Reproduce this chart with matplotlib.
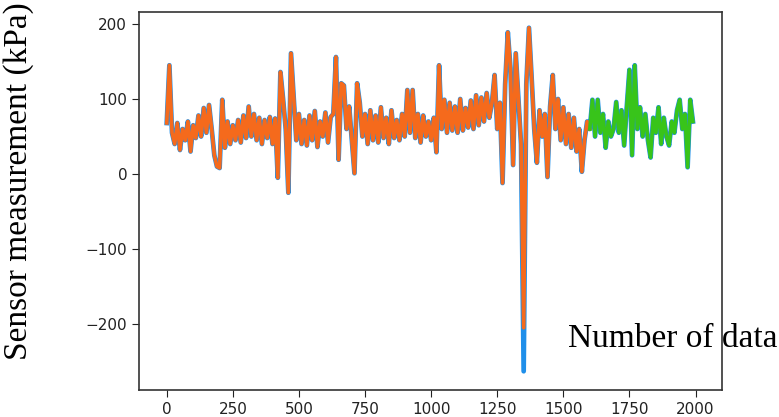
import matplotlib
matplotlib.use("Agg")
import matplotlib.pyplot as plt
import numpy as np

# sensor readings, one value read every 10 samples (index 0..1990)
step = 10
measured = [
    68, 145, 55, 40, 68, 32, 60, 45, 70, 30,
    65, 48, 78, 50, 88, 55, 92, 60, 25, 10,
    8, 99, 35, 70, 40, 65, 45, 72, 42, 78,
    48, 90, 50, 80, 45, 75, 40, 72, 48, 76,
    40, 74, -5, 136, 100, 60, -25, 161, 103, 45,
    80, 40, 72, 38, 78, 45, 84, 36, 70, 50,
    82, 42, 76, 80, 156, 19, 121, 118, 60, 90,
    45, 1, 121, 95, 50, 80, 40, 85, 45, 78,
    42, 89, 48, 75, 40, 85, 48, 72, 45, 80,
    50, 112, 55, 112, 48, 80, 42, 78, 50, 70,
    45, 75, 29, 145, 60, 99, 55, 95, 58, 90,
    55, 100, 58, 88, 62, 98, 60, 105, 65, 102,
    70, 108, 75, 95, 132, 60, 95, -12, 120, 189,
    141, 12, 161, 100, 40, -263, 120, 195, 129, 60,
    15, 85, 50, 80, -4, 90, 132, 60, 100, 45,
    89, 40, 80, 35, 75, 30, 60, 3, 45, 70,
    60, 99, 50, 99, 55, 80, 35, 70, 50, 60,
    96, 55, 85, 38, 90, 139, 25, 145, 60, 89,
    50, 80, 45, 22, 75, 55, 89, 40, 75, 50,
    38, 70, 55, 85, 99, 60, 80, 9, 99, 70,
]
split = 1600          # train / test boundary
spike_idx = 1350      # the model does not follow the big dip fully
spike_pred = -205

measured = np.array(measured, dtype=float)
idx = np.arange(len(measured)) * step

n_train = split // step
train_pred = measured[:n_train + 1].copy()
train_pred[spike_idx // step] = spike_pred
test_pred = measured[n_train:]

fig = plt.figure(figsize=(7.79, 4.17), dpi=100)
ax = fig.add_axes([0.1784, 0.0647, 0.7484, 0.9065])

ax.plot(idx, measured, color="#1f8fea", lw=3.4)
ax.plot(idx[:n_train + 1], train_pred, color="#f56a1c", lw=2.6)
ax.plot(idx[n_train:], test_pred, color="#38c41a", lw=2.6)

ax.set_xlim(-105, 2100)
ax.set_ylim(-288, 216)
ax.set_xticks([0, 250, 500, 750, 1000, 1250, 1500, 1750, 2000])
ax.set_yticks([-200, -100, 0, 100, 200])
ax.tick_params(labelsize=11, colors="#222222", length=5)
for s in ax.spines.values():
    s.set_color("#333333")
    s.set_linewidth(1.2)

serif = ["Liberation Serif", "DejaVu Serif"]
fig.text(0.024, 0.566, "Sensor measurement (kPa)", rotation=90,
         ha="center", va="center", fontsize=24, family=serif)
fig.text(0.729, 0.168, "Number of data", ha="left", va="baseline",
         fontsize=24, family=serif)

fig.savefig("out.png", dpi=100)
